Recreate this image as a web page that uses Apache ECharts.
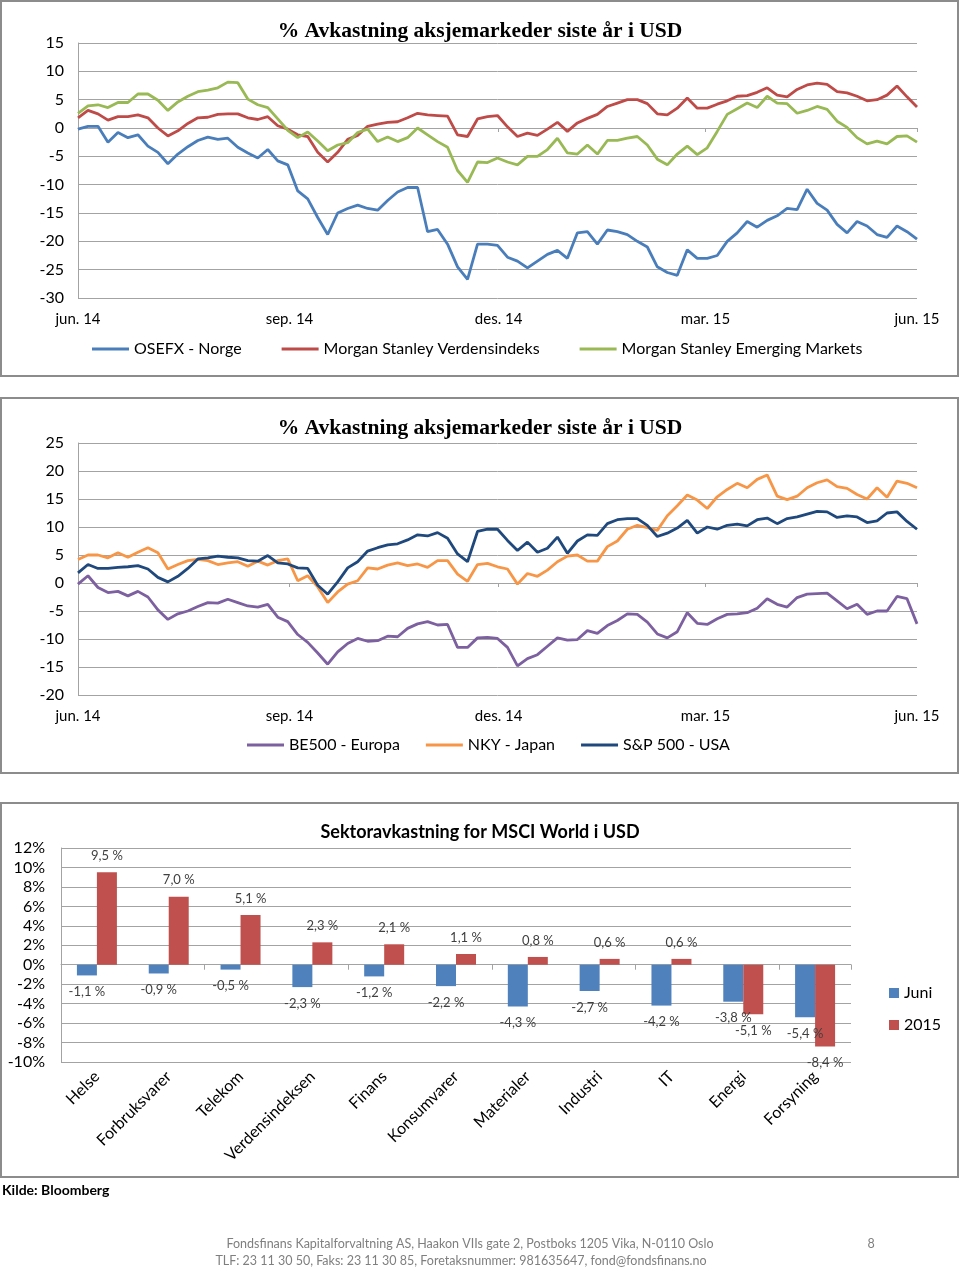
<!DOCTYPE html>
<html><head><meta charset="utf-8">
<script src="https://cdn.jsdelivr.net/npm/echarts@6/dist/echarts.min.js"></script>
<style>html,body{margin:0;padding:0;background:#fff}#c{width:960px;height:1271px}</style>
</head><body><div id="c"></div>
<script>
// ---- data ----
const tickDays = [0, 92, 183, 273, 365];
const tickLabels = ['jun. 14', 'sep. 14', 'des. 14', 'mar. 15', 'jun. 15'];

const osefx = [-0.2, 0.3, 0.3, -2.5, -0.8, -1.7, -1.2, -3.2, -4.3, -6.3,
  -4.6, -3.3, -2.2, -1.6, -2.0, -1.8, -3.4, -4.4, -5.3, -3.8,
  -5.8, -6.5, -11.1, -12.5, -15.8, -18.8, -15.0, -14.2, -13.6, -14.2,
  -14.5, -12.8, -11.3, -10.5, -10.5, -18.3, -17.9, -20.5, -24.5, -26.7,
  -20.5, -20.5, -20.7, -22.8, -23.5, -24.7, -23.5, -22.3, -21.6, -23.0,
  -18.5, -18.3, -20.5, -18.0, -18.3, -18.8, -20.0, -21.0, -24.5, -25.5,
  -26.0, -21.5, -23.0, -23.0, -22.5, -20.0, -18.5, -16.5, -17.5, -16.3,
  -15.5, -14.2, -14.4, -10.8, -13.3, -14.5, -17.0, -18.5, -16.5, -17.3,
  -18.8, -19.3, -17.3, -18.3, -19.6];
const msWorld = [1.8, 3.1, 2.5, 1.4, 2.0, 2.0, 2.3, 1.8, 0.0, -1.4,
  -0.5, 0.8, 1.8, 1.9, 2.4, 2.5, 2.5, 1.8, 1.5, 2.0,
  0.4, -0.2, -1.2, -1.5, -4.3, -6.0, -4.3, -2.0, -1.3, 0.3,
  0.7, 1.0, 1.1, 1.8, 2.6, 2.3, 2.2, 2.1, -1.2, -1.5,
  1.6, 2.0, 2.2, 0.2, -1.5, -0.9, -1.3, -0.2, 1.0, -0.6,
  0.9, 1.7, 2.4, 3.8, 4.4, 5.0, 5.0, 4.3, 2.5, 2.3,
  3.5, 5.3, 3.5, 3.5, 4.2, 4.8, 5.6, 5.7, 6.3, 7.1,
  5.8, 5.5, 6.8, 7.6, 7.9, 7.7, 6.4, 6.2, 5.6, 4.8,
  5.0, 5.8, 7.4, 5.5, 3.7];
const msEM = [2.6, 3.9, 4.1, 3.6, 4.5, 4.5, 6.0, 6.0, 4.9, 3.1,
  4.6, 5.6, 6.4, 6.7, 7.1, 8.1, 8.0, 5.1, 4.1, 3.6,
  1.6, -0.4, -1.7, -0.7, -2.3, -4.0, -3.0, -2.6, -0.8, -0.2,
  -2.4, -1.6, -2.4, -1.7, 0.0, -1.2, -2.4, -3.4, -7.5, -9.6,
  -6.0, -6.1, -5.3, -6.0, -6.5, -5.0, -5.0, -3.8, -1.8, -4.4,
  -4.6, -3.0, -4.6, -2.2, -2.2, -1.8, -1.5, -3.0, -5.5, -6.5,
  -4.6, -3.2, -4.7, -3.5, -0.6, 2.4, 3.4, 4.4, 3.6, 5.6,
  4.4, 4.3, 2.6, 3.1, 3.8, 3.3, 1.2, 0.1, -1.7, -2.8,
  -2.3, -2.8, -1.5, -1.4, -2.5];

const be500 = [-0.2, 1.3, -0.8, -1.7, -1.5, -2.3, -1.5, -2.5, -4.8, -6.5,
  -5.5, -5.0, -4.2, -3.5, -3.6, -2.9, -3.5, -4.1, -4.3, -3.8,
  -6.1, -6.9, -9.2, -10.6, -12.5, -14.5, -12.3, -10.8, -9.9, -10.4,
  -10.3, -9.5, -9.6, -8.1, -7.3, -6.9, -7.5, -7.4, -11.5, -11.5,
  -9.8, -9.7, -9.9, -11.5, -14.8, -13.5, -12.8, -11.3, -9.8, -10.2,
  -10.1, -8.5, -9.0, -7.6, -6.7, -5.5, -5.6, -7.0, -9.1, -9.8,
  -8.7, -5.3, -7.2, -7.4, -6.4, -5.6, -5.5, -5.3, -4.5, -2.8,
  -3.8, -4.3, -2.6, -2.0, -1.9, -1.8, -3.2, -4.6, -3.8, -5.6,
  -5.0, -5.0, -2.4, -2.8, -7.3];
const nky = [4.2, 5.0, 5.0, 4.5, 5.4, 4.6, 5.5, 6.3, 5.4, 2.5,
  3.3, 4.0, 4.2, 4.0, 3.3, 3.6, 3.8, 3.0, 3.9, 3.2,
  4.0, 4.3, 0.4, 1.3, -0.7, -3.5, -1.6, -0.2, 0.4, 2.7,
  2.5, 3.2, 3.6, 3.1, 3.4, 2.8, 4.0, 4.0, 1.6, 0.3,
  3.3, 3.5, 2.9, 2.5, -0.2, 1.7, 1.2, 2.3, 3.8, 4.8,
  5.0, 3.9, 3.9, 6.5, 7.5, 9.6, 10.3, 9.9, 9.4, 12.0,
  13.8, 15.7, 14.8, 13.3, 15.4, 16.7, 17.8, 17.0, 18.5, 19.3,
  15.5, 14.9, 15.5, 17.0, 17.9, 18.4, 17.2, 16.9, 15.8, 15.0,
  17.0, 15.3, 18.2, 17.8, 17.0];
const spx = [1.8, 3.3, 2.6, 2.6, 2.8, 2.9, 3.1, 2.5, 1.0, 0.2,
  1.2, 2.6, 4.3, 4.5, 4.8, 4.6, 4.5, 4.0, 3.9, 4.9,
  3.6, 3.4, 2.7, 2.6, -0.4, -2.0, 0.2, 2.7, 3.8, 5.7,
  6.3, 6.8, 7.0, 7.7, 8.6, 8.4, 9.0, 8.0, 5.2, 3.8,
  9.2, 9.6, 9.6, 7.6, 5.8, 7.3, 5.5, 6.2, 8.2, 5.3,
  7.5, 8.6, 8.5, 10.6, 11.3, 11.5, 11.5, 10.3, 8.3, 8.9,
  9.8, 11.2, 8.9, 10.0, 9.6, 10.3, 10.5, 10.2, 11.3, 11.6,
  10.6, 11.5, 11.8, 12.3, 12.8, 12.7, 11.7, 12.0, 11.8, 10.8,
  11.1, 12.5, 12.7, 11.0, 9.6];

const sectors = ['Helse', 'Forbruksvarer', 'Telekom', 'Verdensindeksen', 'Finans', 'Konsumvarer',
  'Materialer', 'Industri', 'IT', 'Energi', 'Forsyning'];
const juni = [-1.1, -0.9, -0.5, -2.3, -1.2, -2.2, -4.3, -2.7, -4.2, -3.8, -5.4];
const y2015 = [9.5, 7.0, 5.1, 2.3, 2.1, 1.1, 0.8, 0.6, 0.6, -5.1, -8.4];

// ---- styling helpers ----
const GRIDC = '#a3a3a3';
const FONT = 'Lato, "Noto Sans", sans-serif';
const SERIF = '"Liberation Serif", "DejaVu Serif", serif';
function pts(arr) { return arr.map((v, i) => [i * 365 / (arr.length - 1), v]); }
function fmtPct(v) { return v.toFixed(1).replace('.', ',') + ' %'; }

function timeAxes(g) {
  return [
    { gridIndex: g, type: 'value', min: 0, max: 365, position: 'bottom',
      axisLine: { show: false, onZero: false }, axisTick: { show: false }, splitLine: { show: false },
      axisLabel: { customValues: tickDays, margin: 14, fontSize: 15, color: '#000', fontFamily: FONT,
        formatter: v => tickLabels[tickDays.indexOf(v)] || '' } },
    { gridIndex: g, type: 'value', min: 0, max: 365, position: 'top',
      axisLine: { show: true, onZero: true, lineStyle: { color: GRIDC, width: 1 } },
      axisTick: { show: true, inside: true, length: 4, customValues: tickDays, lineStyle: { color: GRIDC } },
      axisLabel: { show: false }, splitLine: { show: false } }
  ];
}
function valAxis(g, min, max, interval, fmt, fs, margin) {
  return { gridIndex: g, type: 'value', min, max, interval,
    axisLine: { show: true, onZero: false, lineStyle: { color: GRIDC, width: 1 } },
    axisTick: { show: false },
    splitLine: { show: true, lineStyle: { color: GRIDC, width: 1 } },
    axisLabel: { fontSize: fs, color: '#000', fontFamily: FONT, margin, formatter: fmt } };
}
function lineSeries(name, arr, color, xi, yi) {
  return { name, type: 'line', xAxisIndex: xi, yAxisIndex: yi, data: pts(arr), showSymbol: false,
    symbol: 'none', lineStyle: { color, width: 2.8 }, itemStyle: { color }, smooth: false };
}
function lineLegend(names, left, top, gap) {
  return { data: names, left, top, padding: 0, itemGap: gap, icon: 'rect', itemWidth: 37, itemHeight: 3,
    selectedMode: false, textStyle: { fontSize: 16, color: '#000', fontFamily: FONT } };
}
function txt(x, y, text, font, fill, align) {
  return { type: 'text', x, y, silent: true,
    style: { text, font, fill, align: align || 'left', textAlign: align || 'left',
      verticalAlign: 'middle', textVerticalAlign: 'middle' } };
}
function frame(y, h) {
  return { type: 'rect', silent: true, shape: { x: 1, y, width: 957, height: h },
    style: { fill: 'none', stroke: '#8c8c8c', lineWidth: 2 } };
}
function barLabel(v) {
  return { show: true, position: v < 0 ? 'bottom' : 'top', distance: 10 };
}

const C = { blue: '#4A7EBB', red: '#BE4B48', green: '#98B954', purple: '#7D60A0', orange: '#F79646', navy: '#1F497D',
  barBlue: '#4F81BD', barRed: '#C0504D' };

const option = {
  animation: false,
  backgroundColor: '#fff',
  title: [
    { text: '% Avkastning aksjemarkeder siste år i USD', left: 'center', top: 15,
      textStyle: { fontFamily: SERIF, fontWeight: 'bold', fontSize: 21.5, color: '#000' } },
    { text: '% Avkastning aksjemarkeder siste år i USD', left: 'center', top: 412,
      textStyle: { fontFamily: SERIF, fontWeight: 'bold', fontSize: 21.5, color: '#000' } },
    { text: 'Sektoravkastning for MSCI World i USD', left: 'center', top: 818,
      textStyle: { fontFamily: FONT, fontWeight: 'bold', fontSize: 18, color: '#000' } }
  ],
  grid: [
    { left: 78, top: 43, width: 839, height: 255 },
    { left: 78, top: 443, width: 839, height: 252 },
    { left: 61, top: 848, width: 790, height: 214 }
  ],
  xAxis: [
    ...timeAxes(0),
    ...timeAxes(1),
    { gridIndex: 2, type: 'category', data: sectors, position: 'bottom',
      axisLine: { show: false, onZero: false }, axisTick: { show: false }, splitLine: { show: false },
      axisLabel: { interval: 0, rotate: 45, margin: 12, fontSize: 16, color: '#000', fontFamily: FONT } },
    { gridIndex: 2, type: 'category', data: sectors, position: 'top',
      axisLine: { show: true, onZero: true, lineStyle: { color: GRIDC, width: 1 } },
      axisTick: { show: true, inside: true, length: 5, lineStyle: { color: GRIDC } },
      axisLabel: { show: false }, splitLine: { show: false } }
  ],
  yAxis: [
    valAxis(0, -30, 15, 5, '{value}', 16, 14),
    valAxis(1, -20, 25, 5, '{value}', 16, 14),
    valAxis(2, -10, 12, 2, '{value}%', 16, 16)
  ],
  legend: [
    lineLegend(['OSEFX - Norge', 'Morgan Stanley Verdensindeks', 'Morgan Stanley Emerging Markets'], 92, 341, 40),
    lineLegend(['BE500 - Europa', 'NKY - Japan', 'S&P 500 - USA'], 247, 737, 26),
    { data: ['Juni', '2015'], orient: 'vertical', left: 889, top: 985, padding: 0, itemGap: 16,
      icon: 'rect', itemWidth: 10, itemHeight: 10, selectedMode: false,
      textStyle: { fontSize: 16, color: '#000', fontFamily: FONT } }
  ],
  series: [
    lineSeries('OSEFX - Norge', osefx, C.blue, 0, 0),
    lineSeries('Morgan Stanley Verdensindeks', msWorld, C.red, 0, 0),
    lineSeries('Morgan Stanley Emerging Markets', msEM, C.green, 0, 0),
    lineSeries('BE500 - Europa', be500, C.purple, 2, 1),
    lineSeries('NKY - Japan', nky, C.orange, 2, 1),
    lineSeries('S&P 500 - USA', spx, C.navy, 2, 1),
    { name: 'Juni', type: 'bar', xAxisIndex: 4, yAxisIndex: 2, barWidth: 20, barGap: '0%',
      itemStyle: { color: C.barBlue },
      data: juni.map(v => ({ value: v, label: barLabel(v) })),
      label: { fontSize: 13, color: '#404040', fontFamily: FONT, formatter: p => fmtPct(p.value) } },
    { name: '2015', type: 'bar', xAxisIndex: 4, yAxisIndex: 2, barWidth: 20, barGap: '0%',
      itemStyle: { color: C.barRed },
      data: y2015.map(v => ({ value: v, label: barLabel(v) })),
      label: { fontSize: 13, color: '#404040', fontFamily: FONT, formatter: p => fmtPct(p.value) } }
  ],
  graphic: [
    frame(1, 375), frame(398, 375), frame(803, 374),
    txt(2, 1190, 'Kilde: Bloomberg', 'bold 14px Lato, sans-serif', '#000', 'left'),
    txt(470, 1244, 'Fondsfinans Kapitalforvaltning AS, Haakon VIIs gate 2, Postboks 1205 Vika, N-0110 Oslo',
      '12.5px Lato, sans-serif', '#7f7f7f', 'center'),
    txt(461, 1261, 'TLF: 23 11 30 50, Faks: 23 11 30 85, Foretaksnummer: 981635647, fond@fondsfinans.no',
      '12.5px Lato, sans-serif', '#7f7f7f', 'center'),
    txt(871, 1244, '8', '12.5px Lato, sans-serif', '#7f7f7f', 'center')
  ]
};

const chart = echarts.init(document.getElementById('c'), null, { renderer: 'canvas', width: 960, height: 1271 });
chart.setOption(option);
</script>
</body></html>
